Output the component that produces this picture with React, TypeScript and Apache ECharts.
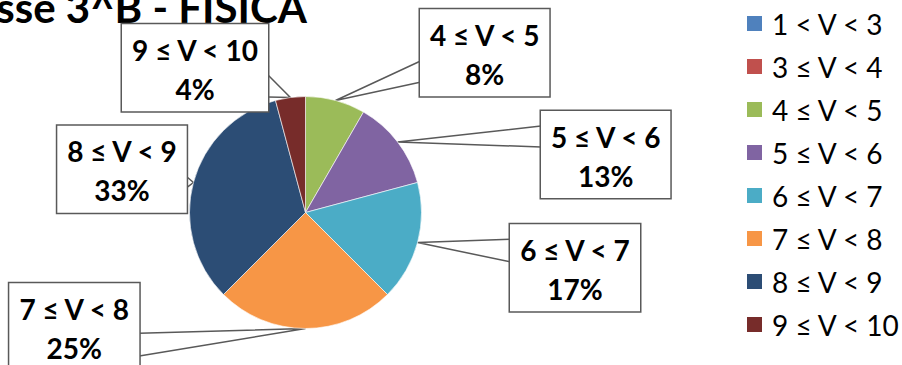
import React, { useEffect, useRef } from "react";
import * as echarts from "echarts";

const categories = [
  "1 < V < 3",
  "3 ≤ V < 4",
  "4 ≤ V < 5",
  "5 ≤ V < 6",
  "6 ≤ V < 7",
  "7 ≤ V < 8",
  "8 ≤ V < 9",
  "9 ≤ V < 10",
];
const counts = [0, 0, 2, 3, 4, 6, 8, 1];
const colors = ["#4F81BD", "#C0504D", "#9BBB59", "#8064A2", "#4BACC6", "#F79646", "#2C4D75", "#772C2A"];
const titleText = "Classe 3^B - FISICA";

// label callout boxes: left, top, width, side of wedge, gap offsets
const labelBoxes: any[] = [
  null,
  null,
  { left: 420, top: 9.3, w: 129.3, side: "left", gap: [52, 73] },
  { left: 541, top: 111, w: 129.3, side: "left", gap: [15, 36] },
  { left: 510, top: 224.3, w: 130, side: "left", gap: [15, 37.5] },
  { left: 9.3, top: 283.3, w: 130, side: "right", gap: [50, 72.7] },
  { left: 57.3, top: 125.7, w: 129.4, side: "right", gap: [51, 62] },
  { left: 122, top: 24.3, w: 146, side: "right", gap: [50.7, 72.7] },
];

const CX = 305.5;
const CY = 212.5;
const R = 116;

export default function App() {
  const ref = useRef<HTMLDivElement>(null);
  useEffect(() => {
    document.body.style.margin = "0";
    const chart = echarts.init(ref.current!, null, { renderer: "svg" });
    const total = counts.reduce((a, b) => a + b, 0);
    const data = categories.map((name, i) => {
      const item: any = { name, value: counts[i], itemStyle: { color: colors[i] } };
      if (counts[i] === 0) {
        item.label = { show: false };
        item.labelLine = { show: false };
      } else {
        const b = labelBoxes[i];
        item.label = { width: b.w };
      }
      return item;
    });
    const tipFallback = (idx: number) => {
      let before = 0;
      for (let k = 0; k < idx; k++) before += counts[k];
      const mid = ((before + counts[idx] / 2) / total) * Math.PI * 2;
      return [CX + R * Math.sin(mid), CY - R * Math.cos(mid)];
    };
    chart.setOption({
      animation: false,
      graphic: [
        {
          type: "text",
          x: 307,
          y: 6.5,
          style: {
            text: titleText,
            font: "bold 42px Lato",
            fill: "#000",
            align: "right",
            verticalAlign: "middle",
          },
        },
      ],
      legend: {
        orient: "vertical",
        left: 745,
        top: 2,
        padding: 0,
        itemWidth: 17,
        itemHeight: 17,
        itemGap: 0,
        icon: "rect",
        data: categories,
        textStyle: {
          fontFamily: "Lato",
          fontSize: 28,
          lineHeight: 43,
          color: "#000",
          padding: [0, 0, 0, 4],
        },
      },
      series: [
        {
          type: "pie",
          center: [CX, CY],
          radius: R,
          startAngle: 90,
          clockwise: true,
          avoidLabelOverlap: false,
          data,
          itemStyle: { borderColor: "#ffffff", borderWidth: 0.6 },
          label: {
            show: true,
            position: "outside",
            formatter: (p: any) => p.name + "\n" + Math.round(p.percent) + "%",
            fontFamily: "Lato",
            fontWeight: "bold",
            fontSize: 28,
            lineHeight: 39,
            color: "#000",
            backgroundColor: "#fff",
            borderColor: "#595959",
            borderWidth: 1.5,
            padding: [6, 0, 3, 0],
            align: "center",
          },
          labelLine: {
            show: true,
            lineStyle: { color: "#595959", width: 1.5 },
          },
          labelLayout: (params: any) => {
            const i = params.dataIndex;
            const b = labelBoxes[i];
            if (!b) return {};
            const tip =
              params.labelLinePoints && params.labelLinePoints[0]
                ? params.labelLinePoints[0]
                : tipFallback(i);
            const ex = b.side === "left" ? b.left : b.left + b.w;
            return {
              x: b.left + b.w / 2,
              y: b.top,
              align: "center",
              verticalAlign: "top",
              labelLinePoints: [
                [ex, b.top + b.gap[0]],
                [tip[0], tip[1]],
                [ex, b.top + b.gap[1]],
              ],
            };
          },
        },
      ],
    });
    return () => chart.dispose();
  }, []);
  return <div ref={ref} style={{ width: 902, height: 365 }} />;
}
